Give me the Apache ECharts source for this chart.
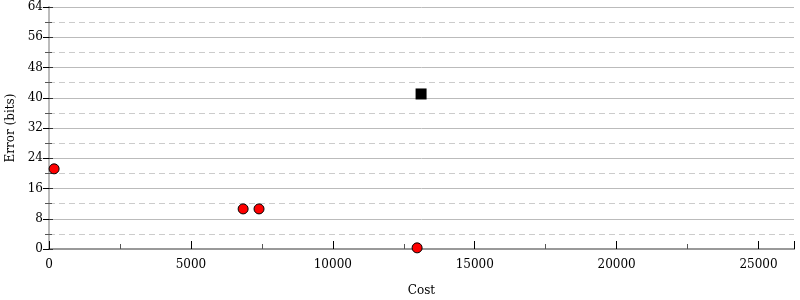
<!DOCTYPE html>
<html><head><meta charset="utf-8">
<script src="https://cdn.jsdelivr.net/npm/echarts@6/dist/echarts.min.js"></script>
<style>html,body{margin:0;padding:0;background:#fff}#c{width:800px;height:300px}</style>
</head><body><div id="c"></div>
<script>
const circleCost = [180, 6840, 7400, 12970];
const circleError = [21.2, 10.6, 10.6, 0.3];
const squareCost = [13110];
const squareError = [41.0];
const xMax = 26250;
const yTicks = [0, 8, 16, 24, 32, 40, 48, 56, 64];

const font = 'DejaVu Serif';
const chart = echarts.init(document.getElementById('c'));
const circles = circleCost.map((c, i) => [c, circleError[i]]);
const squares = squareCost.map((c, i) => [c, squareError[i]]);
chart.setOption({
  animation: false,
  grid: {left: 49, right: 6, top: 7, bottom: 51, containLabel: false, outerBoundsMode: 'none'},
  xAxis: [{
    type: 'value', min: 0, max: xMax, interval: 5000,
    name: 'Cost', nameLocation: 'middle', nameGap: 36,
    nameTextStyle: {fontFamily: font, fontSize: 12, color: '#000'},
    axisLine: {show: true, onZero: false, lineStyle: {color: '#999', width: 2}},
    axisTick: {show: true, inside: true, length: 8, lineStyle: {color: '#000', width: 1}},
    minorTick: {show: true, splitNumber: 2, length: 5, lineStyle: {color: '#555'}},
    axisLabel: {fontFamily: font, fontSize: 12, color: '#000', margin: 10, showMaxLabel: false,
      formatter: v => String(v)},
    splitLine: {show: false}
  }, {
    type: 'value', min: 0, max: xMax, position: 'top',
    axisLine: {show: true, lineStyle: {color: '#999', width: 2}},
    axisTick: {show: false}, axisLabel: {show: false}, splitLine: {show: false}
  }],
  yAxis: [{
    type: 'value', min: 0, max: 64, interval: 8,
    name: 'Error (bits)', nameLocation: 'middle', nameGap: 31, nameRotate: 90,
    nameTextStyle: {fontFamily: font, fontSize: 12, color: '#000'},
    axisLine: {show: true, onZero: false, lineStyle: {color: '#bbb', width: 2}},
    axisTick: {show: true, length: 6, lineStyle: {color: '#000'}},
    minorTick: {show: true, splitNumber: 2, length: 4, lineStyle: {color: '#555'}},
    axisLabel: {fontFamily: font, fontSize: 12, color: '#000', margin: 6, formatter: v => String(v)},
    splitLine: {show: true, lineStyle: {color: '#bbb', width: 1}},
    minorSplitLine: {show: true, lineStyle: {color: '#ccc', type: [6, 4], width: 1}}
  }, {
    type: 'value', min: 0, max: 64, interval: 8, position: 'right',
    axisLine: {show: true, lineStyle: {color: '#bbb', width: 2}},
    axisTick: {show: true, inside: false, length: 4, lineStyle: {color: '#333'}},
    minorTick: {show: true, splitNumber: 2, length: 3, lineStyle: {color: '#555'}},
    axisLabel: {show: false}, splitLine: {show: false}
  }],
  series: [{
    type: 'scatter', data: circles, symbol: 'circle', symbolSize: 10,
    itemStyle: {color: '#f00', borderColor: '#000', borderWidth: 1, opacity: 1}
  }, {
    type: 'scatter', data: squares, symbol: 'rect', symbolSize: 11,
    itemStyle: {color: '#000', opacity: 1}
  }]
});
</script></body></html>
